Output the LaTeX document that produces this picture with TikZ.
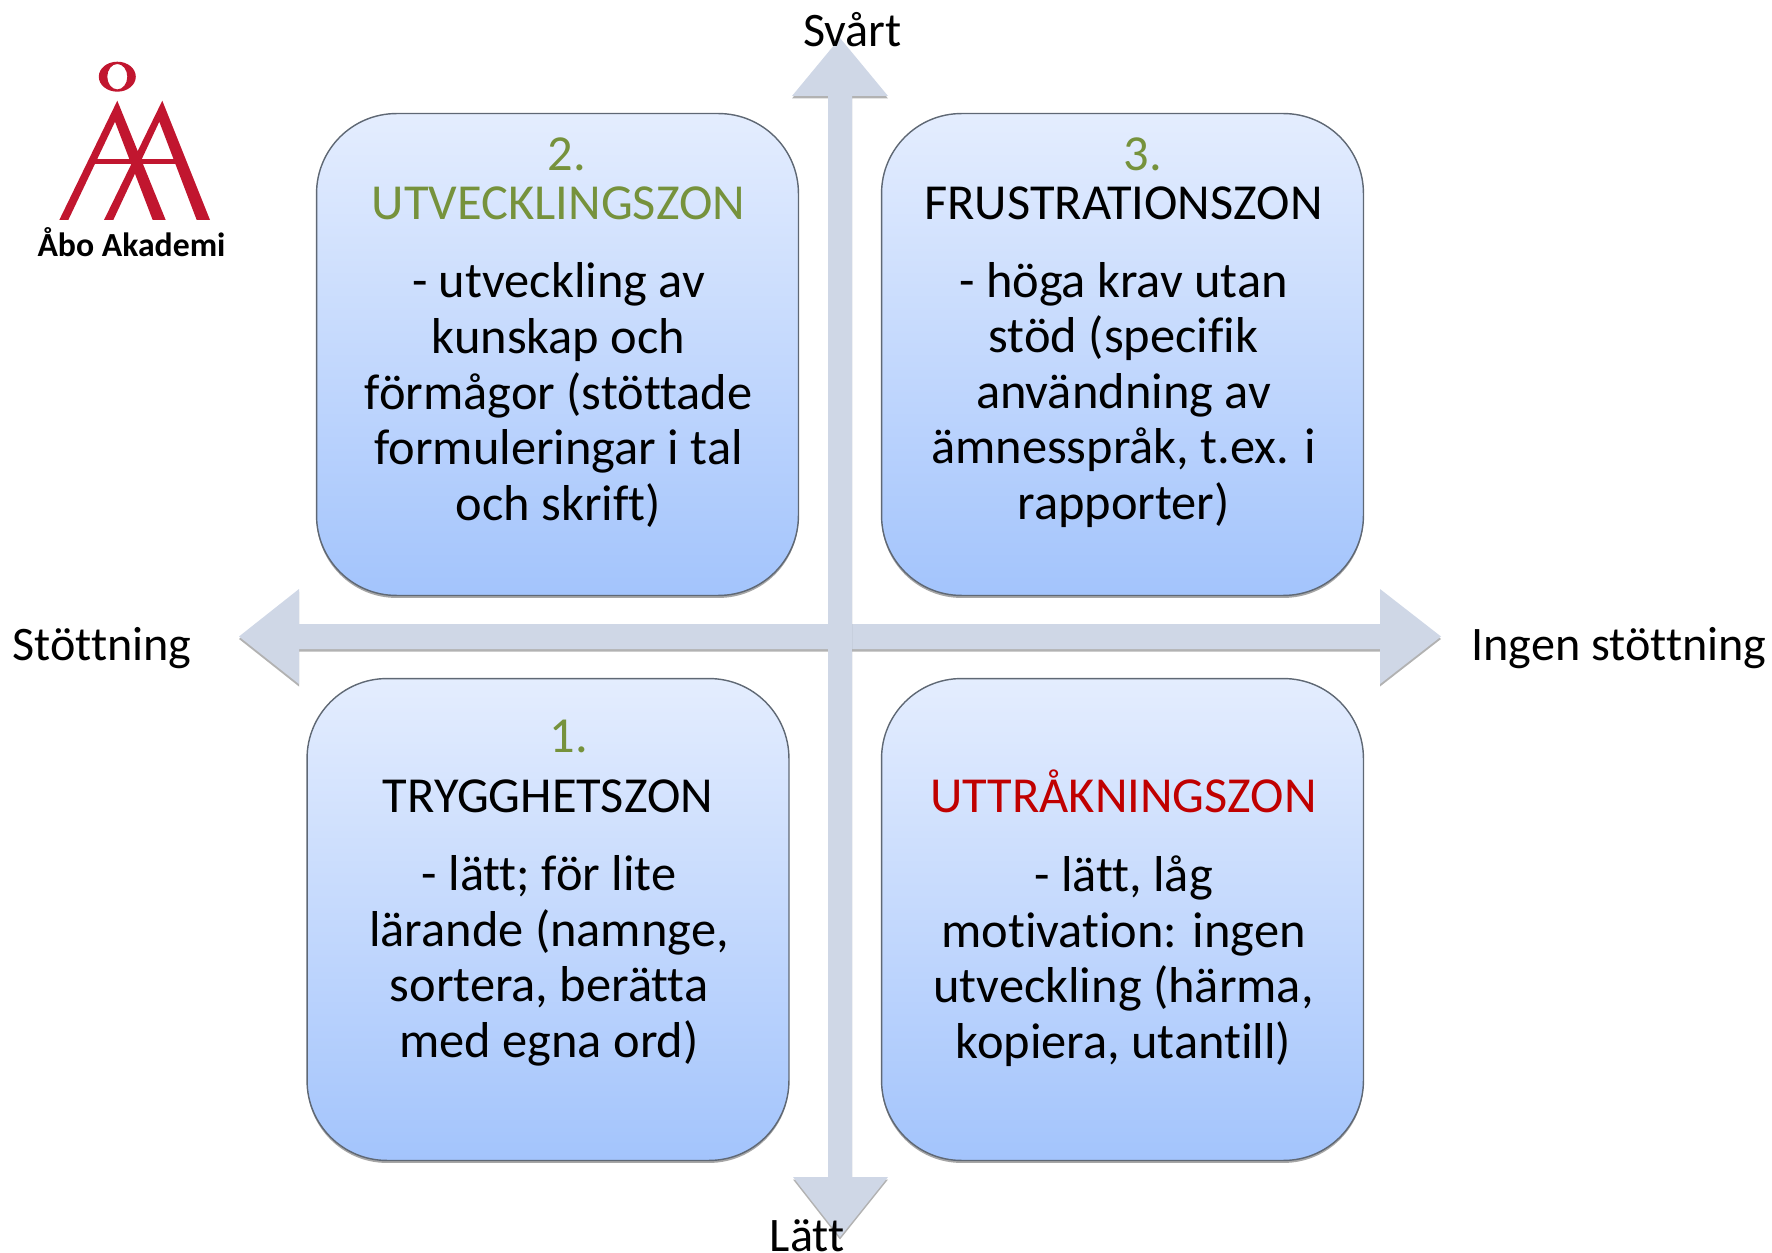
\documentclass[tikz,border=0pt]{standalone}
\usepackage{fontspec}
\setmainfont[Ligatures=NoCommon]{Carlito}
\usetikzlibrary{shadows}
\definecolor{ljusbla}{HTML}{E4EDFE}
\definecolor{morkbla}{HTML}{A3C4FC}
\definecolor{kantgra}{HTML}{5F6874}
\definecolor{axelgra}{HTML}{CFD7E6}
\definecolor{gron}{HTML}{76923C}
\definecolor{rod}{HTML}{C00000}
\definecolor{logorod}{HTML}{C1162F}
\tikzset{
	zon/.style={draw=kantgra, line width=0.8pt, rounded corners=1.6cm, minimum size=9.64cm, top color=ljusbla, bottom color=morkbla, drop shadow={shadow xshift=0cm, shadow yshift=-0.05cm, opacity=0.35, fill=black}},
	axel/.style={fill=axelgra, drop shadow={shadow xshift=0cm, shadow yshift=-0.05cm, opacity=0.3, fill=black}},
	rubrik/.style={anchor=base, font=\fontsize{28.7}{31}\selectfont},
	etikett/.style={anchor=base, inner sep=0pt, font=\fontsize{27.4}{31}\selectfont},
	brodtext/.style={align=center, font=\fontsize{28.7}{31.6}\selectfont},
	logo/.style={fill=logorod, draw=none}
}
\begin{document}
\begin{tikzpicture}[x=0.02cm, y=-0.02cm]
	\useasboundingbox (0,0) rectangle (1772,1253);
	\fill[axel] (239,636.5) -- (299,589) -- (299,624) -- (1380,624) -- (1380,589) -- (1441,636.5) -- (1380,684) -- (1380,649) -- (299,649) -- (299,684) -- cycle;
	\fill[axel] (840,38) -- (888,96) -- (852,96) -- (852,1177) -- (888,1177) -- (840,1237) -- (793,1177) -- (828,1177) -- (828,96) -- (792,96) -- cycle;
	\node[zon] (zon2) at (557.5,354.5) {};
	\node[zon] (zon3) at (1122.5,354.5) {};
	\node[zon] (zon1) at (548,919.5) {};
	\node[zon] (zon4) at (1122.5,919.5) {};
	\node[rubrik, text=gron] (nr2) at (567,171) {2.};
	\node[rubrik, text=gron] (rubrik2) at (558.5,219.5) {UTVECKLINGSZON};
	\node[brodtext] (text2) at (558.5,395) {- utveckling av\\kunskap och\\förmågor (stöttade\\formuleringar i tal\\och skrift)};
	\node[rubrik, text=gron] (nr3) at (1143,171) {3.};
	\node[rubrik] (rubrik3) at (1123.5,219.5) {FRUSTRATIONSZON};
	\node[brodtext] (text3) at (1123.5,395) {- höga krav utan\\stöd (specifik\\användning av\\ämnesspråk, t.ex. i\\rapporter)};
	\node[rubrik, text=gron] (nr1) at (569,752.5) {1.};
	\node[rubrik] (rubrik1) at (548,812.5) {TRYGGHETSZON};
	\node[brodtext] (text1) at (549,961) {- lätt; för lite\\lärande (namnge,\\sortera, berätta\\med egna ord)};
	\node[rubrik, text=rod] (rubrik4) at (1123.5,812.5) {UTTRÅKNINGSZON};
	\node[brodtext] (text4) at (1123.5,961) {- lätt, låg\\motivation: ingen\\utveckling (härma,\\kopiera, utantill)};
	\node[etikett] (svart) at (852.5,47) {Svårt};
	\node[etikett] (latt) at (807,1251) {Lätt};
	\node[etikett] (stod) at (102,660) {Stöttning};
	\node[etikett] (ingen) at (1619,660) {Ingen stöttning};
	\fill[logo, even odd rule] (117.3,76.7) ellipse [x radius=18.5, y radius=15] (117.3,76.7) ellipse [x radius=10, y radius=12.7];
	\fill[logo, even odd rule] (117.3,100.7) -- (59.3,220) -- (68.3,220) -- (115,121.7) -- (152.7,220) -- (165.7,220) -- cycle;
	\fill[logo] (162.3,100.7) -- (104,220) -- (113.3,220) -- (159.3,121.7) -- (196.7,220) -- (210,220) -- cycle;
	\fill[logo] (95,159.3) rectangle (177,164);
	\node[anchor=base, font=\fontsize{19.2}{22}\selectfont\bfseries] (abo) at (131.5,256.5) {Åbo Akademi};
\end{tikzpicture}
\end{document}
